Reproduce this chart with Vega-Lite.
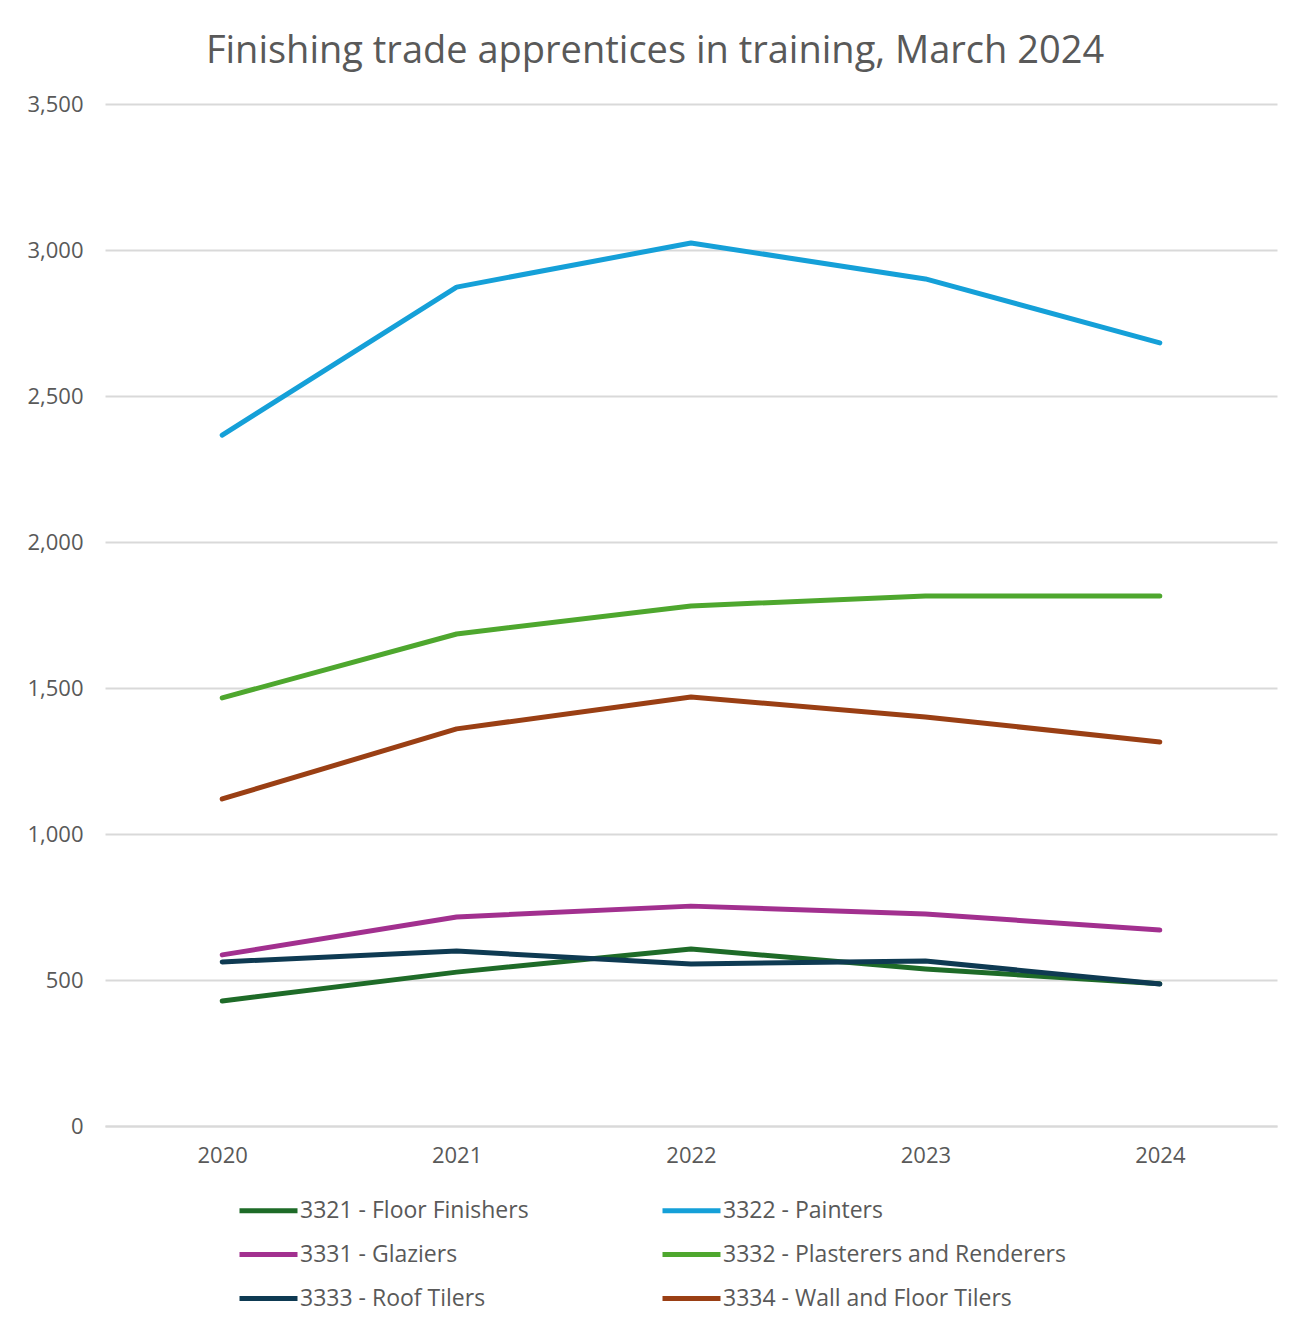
{
  "$schema": "https://vega.github.io/schema/vega-lite/v6.json",
  "width": 1172,
  "height": 1022,
  "autosize": {"type": "none"},
  "padding": {"left": 105, "top": 104, "right": 31, "bottom": 202},
  "background": "white",
  "title": {
    "text": "Finishing trade apprentices in training, March 2024",
    "fontSize": 38,
    "font": "Open Sans",
    "fontWeight": "normal",
    "color": "#595959",
    "anchor": "middle",
    "dx": -36,
    "offset": 22
  },
  "data": {
    "values": [
      {"year": "2020", "series": "3321 - Floor Finishers", "value": 428},
      {"year": "2021", "series": "3321 - Floor Finishers", "value": 527},
      {"year": "2022", "series": "3321 - Floor Finishers", "value": 606},
      {"year": "2023", "series": "3321 - Floor Finishers", "value": 538},
      {"year": "2024", "series": "3321 - Floor Finishers", "value": 487},
      {"year": "2020", "series": "3322 - Painters", "value": 2366},
      {"year": "2021", "series": "3322 - Painters", "value": 2873},
      {"year": "2022", "series": "3322 - Painters", "value": 3024},
      {"year": "2023", "series": "3322 - Painters", "value": 2901},
      {"year": "2024", "series": "3322 - Painters", "value": 2682},
      {"year": "2020", "series": "3331 - Glaziers", "value": 586},
      {"year": "2021", "series": "3331 - Glaziers", "value": 716},
      {"year": "2022", "series": "3331 - Glaziers", "value": 753},
      {"year": "2023", "series": "3331 - Glaziers", "value": 726},
      {"year": "2024", "series": "3331 - Glaziers", "value": 671},
      {"year": "2020", "series": "3332 - Plasterers and Renderers", "value": 1466},
      {"year": "2021", "series": "3332 - Plasterers and Renderers", "value": 1685},
      {"year": "2022", "series": "3332 - Plasterers and Renderers", "value": 1781},
      {"year": "2023", "series": "3332 - Plasterers and Renderers", "value": 1815},
      {"year": "2024", "series": "3332 - Plasterers and Renderers", "value": 1815},
      {"year": "2020", "series": "3333 - Roof Tilers", "value": 562},
      {"year": "2021", "series": "3333 - Roof Tilers", "value": 599},
      {"year": "2022", "series": "3333 - Roof Tilers", "value": 555},
      {"year": "2023", "series": "3333 - Roof Tilers", "value": 565},
      {"year": "2024", "series": "3333 - Roof Tilers", "value": 486},
      {"year": "2020", "series": "3334 - Wall and Floor Tilers", "value": 1120},
      {"year": "2021", "series": "3334 - Wall and Floor Tilers", "value": 1360},
      {"year": "2022", "series": "3334 - Wall and Floor Tilers", "value": 1469},
      {"year": "2023", "series": "3334 - Wall and Floor Tilers", "value": 1401},
      {"year": "2024", "series": "3334 - Wall and Floor Tilers", "value": 1315}
    ]
  },
  "mark": {"type": "line", "strokeWidth": 5, "strokeCap": "round", "strokeJoin": "round"},
  "encoding": {
    "x": {
      "field": "year",
      "type": "ordinal",
      "title": null,
      "scale": {"type": "point", "padding": 0.5},
      "axis": {
        "domain": true,
        "domainColor": "#D9D9D9",
        "domainWidth": 2,
        "ticks": false,
        "grid": false,
        "labelAngle": 0,
        "labelFontSize": 22,
        "labelColor": "#595959",
        "labelPadding": 19
      }
    },
    "y": {
      "field": "value",
      "type": "quantitative",
      "title": null,
      "scale": {"domain": [0, 3500], "nice": false},
      "axis": {
        "values": [0, 500, 1000, 1500, 2000, 2500, 3000, 3500],
        "format": ",d",
        "domain": false,
        "ticks": false,
        "grid": true,
        "gridColor": "#D9D9D9",
        "gridWidth": 2,
        "labelFontSize": 22,
        "labelColor": "#595959",
        "labelPadding": 22
      }
    },
    "color": {
      "field": "series",
      "type": "nominal",
      "title": null,
      "scale": {
        "domain": [
          "3321 - Floor Finishers",
          "3322 - Painters",
          "3331 - Glaziers",
          "3332 - Plasterers and Renderers",
          "3333 - Roof Tilers",
          "3334 - Wall and Floor Tilers"
        ],
        "range": ["#1E6B28", "#15A0D8", "#A2308F", "#4EA72E", "#0E3A52", "#9A3F14"]
      },
      "legend": {
        "orient": "none",
        "legendX": 132,
        "legendY": 1075,
        "columns": 2,
        "direction": "horizontal",
        "symbolType": "stroke",
        "symbolSize": 3364,
        "symbolStrokeWidth": 5,
        "labelOffset": 0,
        "labelFontSize": 23,
        "labelColor": "#595959",
        "labelLimit": 500,
        "columnPadding": 123,
        "rowPadding": 0
      }
    }
  },
  "config": {
    "font": "Open Sans",
    "view": {"stroke": null}
  }
}
